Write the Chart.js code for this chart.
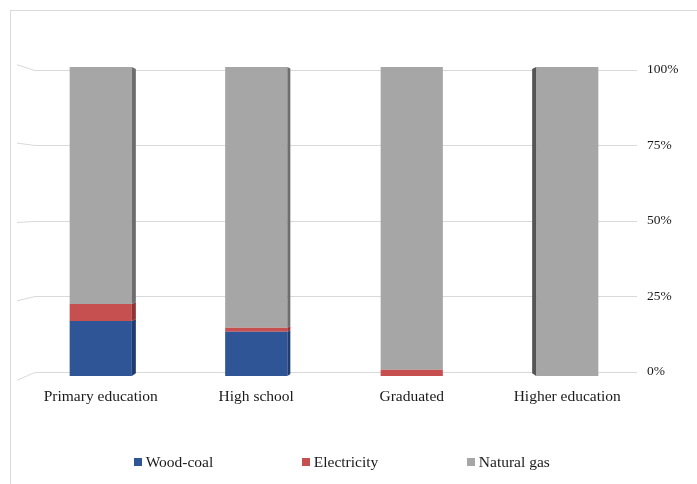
<!DOCTYPE html>
<html>
<head>
<meta charset="utf-8">
<script src="https://cdn.jsdelivr.net/npm/chart.js@4/dist/chart.umd.min.js"></script>
<style>
  html, body { margin: 0; padding: 0; background: #fff; }
  #wrap { position: relative; width: 697px; height: 484px; overflow: hidden; }
  #frame { position: absolute; left: 10px; top: 10px; right: -2px; bottom: -2px;
           border-left: 1px solid #d9d9d9; border-top: 1px solid #d9d9d9; }
  #chart { position: absolute; left: 0; top: 0; }
  #legend { position: absolute; left: 0; width: 684px; top: 453px; height: 17px;
            display: flex; justify-content: center; gap: 89px;
            font: 15.5px/17px 'Liberation Serif', 'Times New Roman', serif; color: #1a1a1a; }
  #legend .item { display: flex; align-items: center; white-space: nowrap; }
  #legend .sw { width: 8px; height: 8px; margin-right: 3.5px; }
</style>
</head>
<body>
<div id="wrap">
  <div id="frame"></div>
  <canvas id="chart" width="697" height="484"></canvas>
  <div id="legend"></div>
</div>
<script>
// Heating fuel share by education level (percent of households)
const categories  = ['Primary education', 'High school', 'Graduated', 'Higher education'];
const woodCoal    = [17.8, 14.3, 0, 0];
const electricity = [5.5, 1.3, 2.0, 0];
const naturalGas  = [76.7, 84.4, 98.0, 100];
const tickValues  = [0, 25, 50, 75, 100];

const seriesNames  = ['Wood-coal', 'Electricity', 'Natural gas'];
const seriesColors = ['#2f5597', '#c65050', '#a6a6a6'];
const sideColors   = ['#1f3c6e', '#8f3434', '#6e6e6e'];
// depth of the visible side face per column (negative = left side)
const sideDepth    = [4, 3, 0, -4];

const FONT = "'Liberation Serif', 'Times New Roman', serif";

// light back-wall gridlines with a short slanted side-wall segment
const wallGrid = {
  id: 'wallGrid',
  beforeDatasetsDraw(chart) {
    const s = chart.scales.y;
    const ctx = chart.ctx;
    ctx.save();
    ctx.strokeStyle = '#d9d9d9';
    ctx.lineWidth = 1;
    s.ticks.forEach(t => {
      const y = s.getPixelForValue(t.value);
      const yy = Math.round(y) + 0.5;
      const off = 0.0447 * (y - 199);
      ctx.beginPath();
      ctx.moveTo(17, yy + off);
      ctx.lineTo(35, yy);
      ctx.lineTo(637, yy);
      ctx.stroke();
    });
    ctx.restore();
  }
};

// darker side faces that give the columns their depth
const columnSides = {
  id: 'columnSides',
  afterDatasetsDraw(chart) {
    const ctx = chart.ctx;
    ctx.save();
    chart.data.datasets.forEach((ds, di) => {
      const meta = chart.getDatasetMeta(di);
      meta.data.forEach((bar, i) => {
        const d = sideDepth[i];
        if (!d) return;
        const p = bar.getProps(['x', 'y', 'base', 'width'], true);
        if (Math.abs(p.base - p.y) < 0.5) return;
        const edge = d > 0 ? p.x + p.width / 2 : p.x - p.width / 2;
        const f = 0.004 * Math.abs(d);
        const back = v => v + (199 - v) * f;
        ctx.fillStyle = i === 3 ? '#555555' : sideColors[di];
        ctx.beginPath();
        ctx.moveTo(edge, p.y);
        ctx.lineTo(edge + d, back(p.y));
        ctx.lineTo(edge + d, back(p.base));
        ctx.lineTo(edge, p.base);
        ctx.closePath();
        ctx.fill();
      });
    });
    ctx.restore();
  }
};

const seriesValues = [woodCoal, electricity, naturalGas];

const chart = new Chart(document.getElementById('chart'), {
  type: 'bar',
  data: {
    labels: categories,
    datasets: seriesNames.map((name, i) => ({
      label: name,
      data: seriesValues[i],
      backgroundColor: seriesColors[i],
      borderWidth: 0,
      yAxisID: 'yb',
      barPercentage: 0.4,
      categoryPercentage: 1.0
    }))
  },
  options: {
    responsive: false,
    animation: false,
    layout: { padding: { left: 23, right: 0, top: 67, bottom: 0 } },
    plugins: { legend: { display: false }, tooltip: { enabled: false } },
    scales: {
      x: {
        stacked: true,
        grid: { display: false, drawTicks: false },
        border: { display: false },
        ticks: { color: '#1a1a1a', font: { family: FONT, size: 15.5 }, padding: 12, maxRotation: 0 },
        afterFit(scale) { scale.height = 108; }
      },
      // front plane of the columns
      yb: {
        stacked: true,
        display: false,
        min: 0,
        max: 100
      },
      // back wall carrying the percentage ticks
      y: {
        position: 'right',
        min: -1.49,
        max: 100.83,
        grid: { display: false, drawTicks: false },
        border: { display: false },
        afterBuildTicks(scale) { scale.ticks = tickValues.map(v => ({ value: v })); },
        ticks: {
          color: '#1a1a1a',
          font: { family: FONT, size: 13.5 },
          padding: 2,
          callback: v => v + '%'
        },
        afterFit(scale) { scale.width = 52; }
      }
    }
  },
  plugins: [wallGrid, columnSides]
});

// legend row built from the chart's datasets
const legend = document.getElementById('legend');
chart.data.datasets.forEach(ds => {
  const item = document.createElement('div');
  item.className = 'item';
  const sw = document.createElement('span');
  sw.className = 'sw';
  sw.style.background = ds.backgroundColor;
  const txt = document.createElement('span');
  txt.textContent = ds.label;
  item.appendChild(sw);
  item.appendChild(txt);
  legend.appendChild(item);
});
</script>
</body>
</html>
